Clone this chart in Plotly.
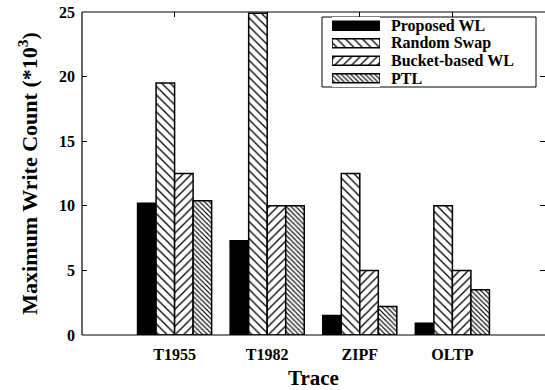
import plotly.graph_objects as go

# Trace workloads and maximum write counts (in thousands) per wear-leveling scheme
traces = ["T1955", "T1982", "ZIPF", "OLTP"]
proposed_wl = [10.2, 7.3, 1.5, 0.9]
random_swap = [19.5, 24.9, 12.5, 10.0]
bucket_wl = [12.5, 10.0, 5.0, 5.0]
ptl = [10.4, 10.0, 2.2, 3.5]

series_names = ["Proposed WL", "Random Swap", "Bucket-based WL", "PTL"]
series_values = [proposed_wl, random_swap, bucket_wl, ptl]

y_ticks = [0, 5, 10, 15, 20, 25]

FONT = "Liberation Serif, Times New Roman, Tinos, serif"
W, H = 545, 390
ML, MR, MT, MB = 82, 0, 12, 55

# Fill styles: solid black, wide back-slash, wide slash, dense back-slash
patterns = [
    dict(shape="", fillmode="replace"),
    dict(shape="\\", size=6, solidity=0.22, fgcolor="black", bgcolor="white", fillmode="replace"),
    dict(shape="/", size=6, solidity=0.22, fgcolor="black", bgcolor="white", fillmode="replace"),
    dict(shape="\\", size=3.4, solidity=0.35, fgcolor="black", bgcolor="white", fillmode="replace"),
]
colors = ["black", "white", "white", "white"]

fig = go.Figure()
xpos = list(range(len(traces)))
for name, vals, pat, col in zip(series_names, series_values, patterns, colors):
    fig.add_trace(go.Bar(
        x=xpos, y=vals, name=name,
        marker=dict(color=col, pattern=pat, line=dict(color="black", width=1.5)),
        showlegend=False,
    ))

# Legend drawn as a small horizontal bar panel so the swatches show the fill patterns
def px_x(px):
    return (px - ML) / (W - ML - MR)

def px_y(py):
    return (H - MB - py) / (H - MT - MB)

leg_x0, leg_x1, leg_y0, leg_y1 = 322, 536, 17, 87
sw_x0, sw_x1 = 332, 380
for i, (name, pat, col) in enumerate(zip(series_names, patterns, colors)):
    fig.add_trace(go.Bar(
        x=[1], y=[i], orientation="h", xaxis="x2", yaxis="y2", width=0.52,
        marker=dict(color=col, pattern=pat, line=dict(color="black", width=1.5)),
        showlegend=False, hoverinfo="skip",
    ))

fig.add_shape(type="rect", xref="paper", yref="paper",
              x0=px_x(leg_x0), x1=px_x(leg_x1), y0=px_y(leg_y1), y1=px_y(leg_y0),
              line=dict(color="black", width=1), fillcolor="white", layer="below")

row_h = (leg_y1 - leg_y0) / 4
for i, name in enumerate(series_names):
    yc = leg_y0 + row_h * (i + 0.5)
    fig.add_annotation(x=px_x(389), y=px_y(yc), xref="paper", yref="paper",
                       text="<b>%s</b>" % name, showarrow=False, xanchor="left", yanchor="middle",
                       font=dict(family=FONT, size=16, color="black"))

# Frame: left, bottom and top lines (the right edge sits at the page border)
for x0, y0, x1, y1 in [(0, 0, 0, 1), (0, 0, 1, 0), (0, 1, 1, 1)]:
    fig.add_shape(type="line", xref="paper", yref="paper", x0=x0, y0=y0, x1=x1, y1=y1,
                  line=dict(color="black", width=1.2), layer="above")

axis_common = dict(
    showline=False, mirror="ticks",
    ticks="inside", ticklen=5, tickwidth=1, tickcolor="black",
    showgrid=False, zeroline=False,
    tickfont=dict(family=FONT, size=16, color="black"),
)

fig.update_layout(
    width=W, height=H,
    margin=dict(l=ML, r=MR, t=MT, b=MB),
    paper_bgcolor="white", plot_bgcolor="white",
    font=dict(family=FONT, color="black"),
    barmode="group", bargap=0.2, bargroupgap=0,
    xaxis=dict(
        **axis_common, range=[-1, 4], tickmode="array", tickvals=xpos,
        ticktext=["<b>%s</b>" % t for t in traces],
        ticklabelstandoff=8,
        title=dict(text="<b>Trace</b>", standoff=10,
                   font=dict(family=FONT, size=21, color="black")),
    ),
    yaxis=dict(
        **axis_common, range=[0, 25], tickmode="array", tickvals=y_ticks,
        ticktext=["<b>%d</b>" % v for v in y_ticks],
        ticklabelstandoff=6,
        title=dict(text="<b>Maximum Write Count (*10<sup>3</sup>)</b>", standoff=15,
                   font=dict(family=FONT, size=22, color="black")),
    ),
    xaxis2=dict(domain=[px_x(sw_x0), px_x(sw_x1)], range=[0, 1], anchor="y2",
                visible=False, fixedrange=True),
    yaxis2=dict(domain=[px_y(leg_y1), px_y(leg_y0)], range=[3.5, -0.5], anchor="x2",
                visible=False, fixedrange=True),
)

fig.write_html("out.html")
